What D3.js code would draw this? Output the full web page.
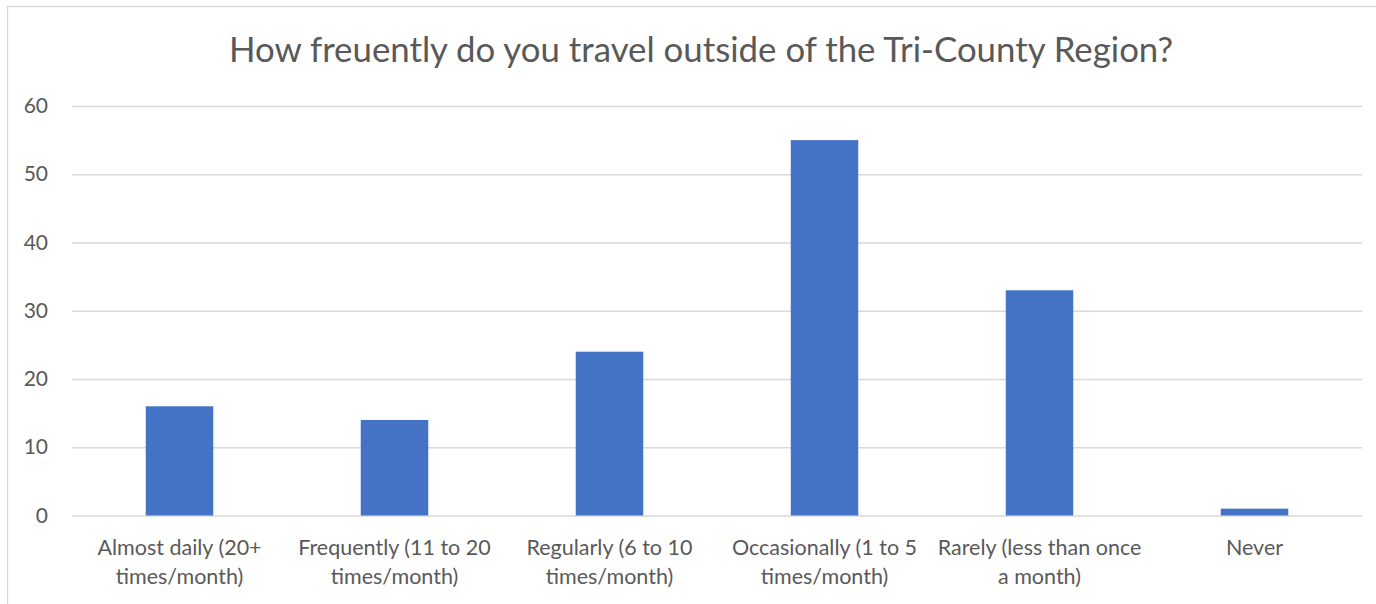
<!DOCTYPE html>
<html>
<head>
<meta charset="utf-8">
<script src="https://cdn.jsdelivr.net/npm/d3@7"></script>
<style>
  html, body { margin: 0; padding: 0; background: #ffffff; }
  svg { display: block; }
  text { font-family: Lato, "Open Sans", sans-serif; fill: #595959; }
</style>
</head>
<body>
<svg id="chart" width="1376" height="604"></svg>
<script>
// Survey answers (each category label split into its two display lines)
const categories = [
  "Almost daily (20+ times/month)",
  "Frequently (11 to 20 times/month)",
  "Regularly (6 to 10 times/month)",
  "Occasionally (1 to 5 times/month)",
  "Rarely (less than once a month)",
  "Never"
];
const categoryLines = [
  ["Almost daily (20+", "times/month)"],
  ["Frequently (11 to 20", "times/month)"],
  ["Regularly (6 to 10", "times/month)"],
  ["Occasionally (1 to 5", "times/month)"],
  ["Rarely (less than once", "a month)"],
  ["Never"]
];
const responses = [16, 14, 24, 55, 33, 1];
const yTicks = [0, 10, 20, 30, 40, 50, 60];
const title = "How freuently do you travel outside of the Tri-County Region?";

const svg = d3.select("#chart");
const plot = { left: 72, right: 1362, top: 106, bottom: 515.5 };

// Chart frame
svg.append("rect")
  .attr("x", 7.5).attr("y", 6.5)
  .attr("width", 1376).attr("height", 620)
  .attr("fill", "#ffffff")
  .attr("stroke", "#d9d9d9").attr("stroke-width", 1.3);

svg.append("text")
  .attr("x", 701).attr("y", 62)
  .attr("text-anchor", "middle")
  .attr("font-size", 34.8)
  .text(title);

const x = d3.scaleBand()
  .domain(categories)
  .range([plot.left, plot.right])
  .paddingInner(0.686)
  .paddingOuter(0.343);

const y = d3.scaleLinear()
  .domain([0, 60])
  .range([plot.bottom, plot.top]);

// Horizontal gridlines + value labels
const yAxis = d3.axisLeft(y)
  .tickValues(yTicks)
  .tickSize(-(plot.right - plot.left))
  .tickPadding(24);

const gy = svg.append("g")
  .attr("transform", `translate(${plot.left},0)`)
  .call(yAxis);
gy.select(".domain").remove();
gy.selectAll(".tick line").attr("stroke", "#d9d9d9").attr("stroke-width", 1.3);
gy.selectAll(".tick text")
  .attr("font-size", 21)
  .attr("fill", "#595959")
  .attr("font-family", "Lato, 'Open Sans', sans-serif");

// Bars
svg.append("g")
  .selectAll("rect")
  .data(responses)
  .join("rect")
  .attr("x", (d, i) => x(categories[i]))
  .attr("y", d => y(d))
  .attr("width", x.bandwidth())
  .attr("height", d => y(0) - y(d))
  .attr("fill", "#4472c4");

// Category labels (two lines each)
const gx = svg.append("g");
categoryLines.forEach((lines, i) => {
  const cx = x(categories[i]) + x.bandwidth() / 2;
  const t = gx.append("text")
    .attr("x", cx)
    .attr("y", 555)
    .attr("text-anchor", "middle")
    .attr("font-size", 21.5);
  lines.forEach((ln, j) => {
    t.append("tspan")
      .attr("x", cx)
      .attr("dy", j === 0 ? 0 : 29)
      .text(ln);
  });
});
</script>
</body>
</html>
